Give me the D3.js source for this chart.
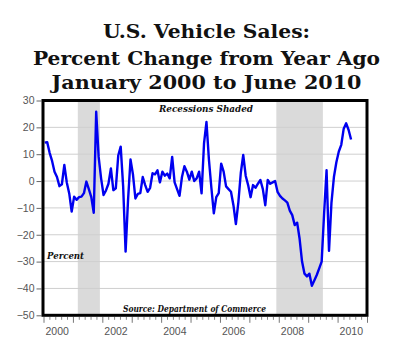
<!DOCTYPE html>
<html>
<head>
<meta charset="utf-8">
<script src="https://cdn.jsdelivr.net/npm/d3@7"></script>
<style>
  html, body { margin: 0; padding: 0; background: #fff; }
  svg { display: block; }
</style>
</head>
<body>
<svg id="chart" width="400" height="355"></svg>
<script>
// ---- Data ----
const titleLines = ["U.S. Vehicle Sales:", "Percent Change from Year Ago", "January 2000 to June 2010"];
const startYear = 2000; // first observation: January 2000, monthly
const salesChange = [
  14.3, 14.5, 10.5, 7.5, 3.5, 1.5, -1.9, -1.2, 6.0, -0.5, -4.6, -11.4,      // 2000
  -5.8, -7.0, -6.0, -5.8, -4.5, -0.2, -3.0, -6.0, -11.8, 25.8, 9.0, 1.0,    // 2001
  -5.2, -3.5, -1.0, 4.7, -3.4, -2.7, 9.5, 12.8, -2.0, -26.3, -7.0, 8.0,     // 2002
  2.5, -6.5, -4.8, -4.5, 1.5, -1.5, -4.0, -2.5, 2.9, 2.5, 4.0, -0.5,        // 2003
  3.5, 2.0, 2.8, 1.0, 9.0, -0.5, -3.0, -5.5, 1.5, 5.5, 3.5, 0.5,            // 2004
  3.5, 0.0, 1.0, 3.5, -4.6, 14.0, 22.0, 8.0, -2.5, -12.0, -6.0, -4.5,       // 2005
  6.5, 3.5, -2.0, -3.0, -4.0, -9.0, -16.0, -8.0, 3.0, 9.7, 2.0, -1.5,       // 2006
  -6.0, -1.5, -2.5, -1.0, 0.4, -3.0, -9.0, 0.4, -1.0, -0.5, 0.0, -4.0,      // 2007
  -5.5, -6.5, -7.2, -8.0, -11.0, -12.7, -16.4, -15.5, -21.5, -30.0, -34.5, -35.5, // 2008
  -34.5, -39.0, -37.0, -35.0, -32.5, -30.0, -12.0, 4.0, -26.0, -8.0, 1.5, 7.0,    // 2009
  11.0, 13.5, 19.5, 21.5, 19.0, 15.5                                        // 2010 (Jan-Jun)
];
const recessionStarts = [2001 + 2/12, 2007 + 11/12];   // Mar 2001, Dec 2007
const recessionEnds   = [2001 + 11/12, 2009 + 6/12];   // end Nov 2001, end Jun 2009
const yTicks = [-50, -40, -30, -20, -10, 0, 10, 20, 30];
const xLabelYears = [2000, 2002, 2004, 2006, 2008, 2010];
const majorYears = [2000, 2001, 2002, 2003, 2004, 2005, 2006, 2007, 2008, 2009, 2010, 2011];

(function () {
// ---- Layout ----
const svg = d3.select("#chart");
const pL = 43, pR = 367, pT = 100.5, pB = 315.3;

const x = d3.scaleLinear().domain([2000, 2011]).range([43.5, 367]);
const y = d3.scaleLinear().domain([-50, 30]).range([pB, pT]);

// Title
const titleBase = [38, 65, 89];
const titleW = [207, 347, 310];
svg.append("g").selectAll("text").data(titleLines).join("text")
  .attr("x", 206.5)
  .attr("y", (d, i) => titleBase[i])
  .attr("text-anchor", "middle")
  .attr("font-family", "'DejaVu Serif', serif")
  .attr("font-weight", "bold")
  .attr("font-size", 19)
  .attr("fill", "#111")
  .attr("textLength", (d, i) => titleW[i])
  .attr("lengthAdjust", "spacingAndGlyphs")
  .text(d => d);

// Recession shading
svg.append("g").selectAll("rect").data(recessionStarts).join("rect")
  .attr("x", (d) => x(d))
  .attr("y", pT)
  .attr("width", (d, i) => x(recessionEnds[i]) - x(d))
  .attr("height", pB - pT)
  .attr("fill", "#dadada");

// Grid
svg.append("g").selectAll("line").data(yTicks.filter(v => v > -50 && v < 30)).join("line")
  .attr("x1", pL).attr("x2", pR)
  .attr("y1", d => y(d)).attr("y2", d => y(d))
  .attr("stroke", "#cfcfcf").attr("stroke-width", 1);

// Y axis
const yAxis = svg.append("g")
  .attr("transform", `translate(${pL - 1.5},0)`)
  .call(d3.axisLeft(y).tickValues(yTicks).tickSize(5).tickPadding(2).tickFormat(d3.format("d")));
yAxis.select(".domain").remove();
yAxis.selectAll("line").attr("stroke", "#666");
yAxis.selectAll("text").attr("font-family", "'Liberation Sans', Arial, sans-serif")
  .attr("font-size", 10.5).attr("fill", "#555");

// X axis ticks
const minorTicks = [];
majorYears.slice(0, -1).forEach(yr => { for (let k = 1; k < 5; k++) minorTicks.push(yr + k / 5); });
const xMajor = svg.append("g").attr("transform", `translate(0,${pB + 1.5})`)
  .call(d3.axisBottom(x).tickValues(majorYears).tickSize(6).tickFormat(""));
xMajor.select(".domain").remove();
xMajor.selectAll("line").attr("stroke", "#777");
const xMinor = svg.append("g").attr("transform", `translate(0,${pB + 1.5})`)
  .call(d3.axisBottom(x).tickValues(minorTicks).tickSize(3).tickFormat(""));
xMinor.select(".domain").remove();
xMinor.selectAll("line").attr("stroke", "#888");

svg.append("g").selectAll("text").data(xLabelYears).join("text")
  .attr("x", d => x(d + 0.5) - 1)
  .attr("y", 335)
  .attr("text-anchor", "middle")
  .attr("font-family", "'Liberation Sans', Arial, sans-serif")
  .attr("font-size", 10.5)
  .attr("fill", "#555")
  .text(d => d);

// Line
const pts = salesChange.map((v, i) => ({ t: startYear + (i + 0.5) / 12, v }));
svg.append("path").datum(pts)
  .attr("fill", "none")
  .attr("stroke", "#0000f0")
  .attr("stroke-width", 2.4)
  .attr("stroke-linejoin", "round")
  .attr("d", d3.line().x(d => x(d.t)).y(d => y(d.v)));

// Annotations
const italic = (txt, xx, yy, w, size) => svg.append("text")
  .attr("x", xx).attr("y", yy)
  .attr("font-family", "'DejaVu Serif', serif")
  .attr("font-style", "italic").attr("font-weight", "bold")
  .attr("font-size", size).attr("fill", "#111")
  .attr("textLength", w).attr("lengthAdjust", "spacingAndGlyphs")
  .text(txt);
italic("Recessions Shaded", 159, 112, 94, 9.5);
italic("Percent", 47, 258.5, 37, 9.5);
italic("Source: Department of Commerce", 123, 312, 143, 9);

// Frame
svg.append("rect")
  .attr("x", pL).attr("y", pT)
  .attr("width", pR - pL).attr("height", pB - pT)
  .attr("fill", "none").attr("stroke", "#000").attr("stroke-width", 3);
})();
</script>
</body>
</html>
